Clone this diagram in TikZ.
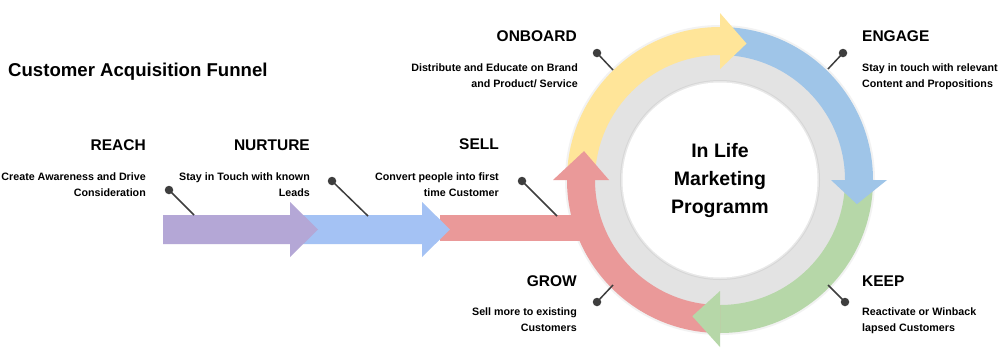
\documentclass[tikz,border=0pt]{standalone}
\usepackage{fontspec}
\setmainfont{Liberation Sans}
\usetikzlibrary{calc}
\definecolor{cpurple}{HTML}{B4A7D6}
\definecolor{cfblue}{HTML}{A4C2F4}
\definecolor{cred}{HTML}{EA9999}
\definecolor{cyellow}{HTML}{FFE599}
\definecolor{cblue}{HTML}{9FC5E8}
\definecolor{cgreen}{HTML}{B6D7A8}
\definecolor{cring}{HTML}{E3E3E3}
\definecolor{cpin}{HTML}{3E3E3E}
\newcommand{\myband}[3]{%
  \fill[#1] ($(C)+(#2:153)$) arc[start angle=#2,end angle=#3,radius=153]
    -- ($(C)+(#3:125)$) arc[start angle=#3,end angle=#2,radius=125] -- cycle;}
\newcommand{\myhead}[3]{%
  \fill[#1] ($(C)+(#2:111)$) -- ($(C)+(#2:167)$) -- ($(C)+(#3:139)$) -- cycle;}
\tikzset{
  title/.style={font=\bfseries\fontsize{15.5}{18}\selectfont, inner sep=0pt},
  desc/.style={font=\bfseries\fontsize{10.7}{16}\selectfont, inner sep=0pt},
  pindot/.style={circle, fill=cpin, inner sep=0pt, minimum size=8.5pt},
  pinline/.style={draw=cpin, line width=1.5pt},
}
\begin{document}
\begin{tikzpicture}[x=1pt,y=-1pt]
\useasboundingbox (0,0) rectangle (1005,349);
\fill[white] (0,0) rectangle (1005,349);
\coordinate (C) at (720,180);
\fill[black!5] (C) circle[radius=155];
% funnel
\fill[cred] (440,215) rectangle (600,241);
\fill[cfblue] (300,215) -- (422,215) -- (422,202) -- (450,229.5) -- (422,257) -- (422,244) -- (300,244) -- cycle;
\fill[cpurple] (163,215) -- (290,215) -- (290,202) -- (318,229.5) -- (290,257) -- (290,244) -- (163,244) -- cycle;
% circle
\fill[cring] (C) circle[radius=126];
\fill[black!16] (C) circle[radius=100];
\fill[black!9] (C) circle[radius=99];
\fill[white] (C) circle[radius=97.5];
\myband{cyellow}{180}{270}
\myband{cblue}{270}{360}
\myband{cgreen}{360}{450}
\myband{cred}{90}{180}
\myhead{cyellow}{270}{281}
\myhead{cblue}{360}{370}
\myhead{cgreen}{450}{461.5}
\myhead{cred}{180}{192}
\node[font=\bfseries\fontsize{19.5}{27.7}\selectfont, align=center, inner sep=0pt, anchor=base] (center) at (720,213.3) {In Life\\Marketing\\Programm};
% pins
\node[pindot] (dReach) at (169,190) {}; \coordinate (eReach) at (194,215);
\node[pindot] (dNurt) at (332,181) {}; \coordinate (eNurt) at (368,216);
\node[pindot] (dSell) at (522,181) {}; \coordinate (eSell) at (557,216);
\node[pindot] (dOn) at (597,53) {}; \coordinate (eOn) at (613,70);
\node[pindot] (dEng) at (843,53) {}; \coordinate (eEng) at (828,69);
\node[pindot] (dGrow) at (597,302) {}; \coordinate (eGrow) at (613,285);
\node[pindot] (dKeep) at (845,302) {}; \coordinate (eKeep) at (828,285);
\foreach \p in {Reach,Nurt,Sell,On,Eng,Grow,Keep} \draw[pinline] (d\p.center) -- (e\p);
% texts
\node[font=\bfseries\fontsize{18.6}{22}\selectfont, inner sep=0pt, anchor=base west] (ttl) at (8,76) {Customer Acquisition Funnel};
\node[title, anchor=base east] (tReach) at (146,150) {REACH};
\node[desc, align=right, anchor=base east] (xReach) at (146,196) {Create Awareness and Drive\\Consideration};
\node[title, anchor=base east] (tNurt) at (310,150) {NURTURE};
\node[desc, align=right, anchor=base east] (xNurt) at (310,196) {Stay in Touch with known\\Leads};
\node[title, anchor=base east] (tSell) at (499,149.5) {SELL};
\node[desc, align=right, anchor=base east] (xSell) at (499,196) {Convert people into first\\time Customer};
\node[title, anchor=base east] (tOn) at (577,41.7) {ONBOARD};
\node[desc, align=right, anchor=base east] (xOn) at (578,87.7) {Distribute and Educate on Brand\\and Product/ Service};
\node[title, anchor=base west] (tEng) at (862,41.7) {ENGAGE};
\node[desc, align=left, anchor=base west] (xEng) at (862,87.7) {Stay in touch with relevant\\Content and Propositions};
\node[title, anchor=base east] (tGrow) at (577,286) {GROW};
\node[desc, align=right, anchor=base east] (xGrow) at (577,331.7) {Sell more to existing\\Customers};
\node[title, anchor=base west] (tKeep) at (862,286) {KEEP};
\node[desc, align=left, anchor=base west] (xKeep) at (862,331.7) {Reactivate or Winback\\lapsed Customers};
\end{tikzpicture}
\end{document}
